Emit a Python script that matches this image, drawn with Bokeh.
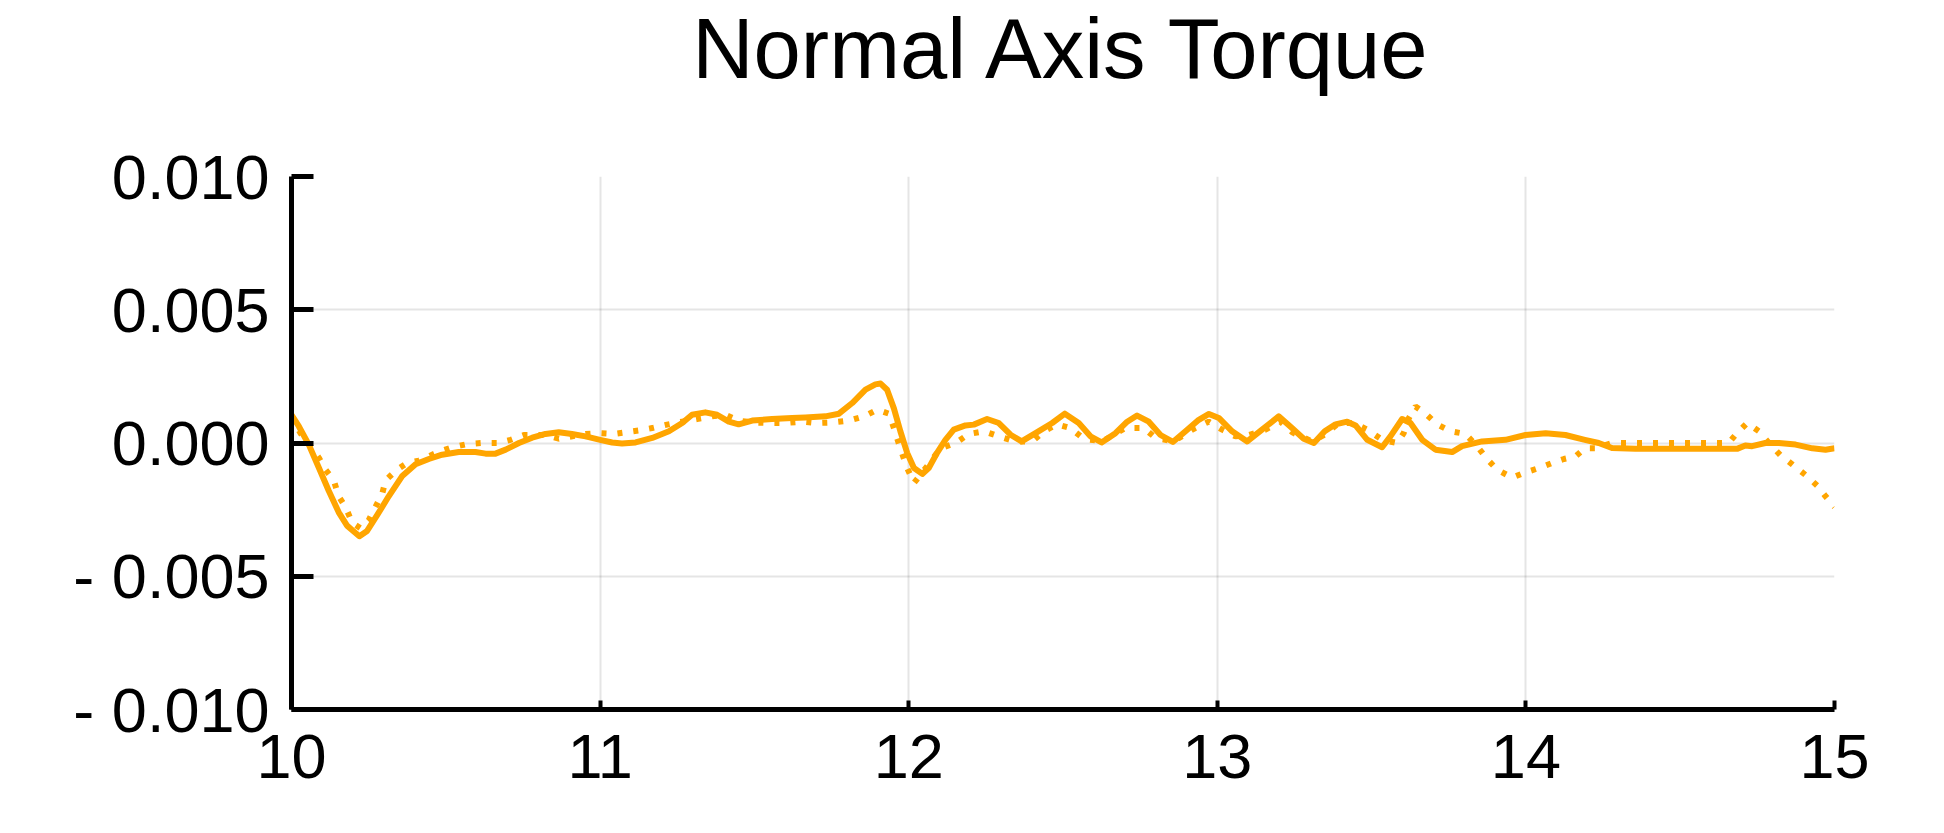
from bokeh.plotting import figure
from bokeh.models import Range1d, FixedTicker, CustomJSTickFormatter, Title
from bokeh.embed import file_html
from bokeh.resources import INLINE

# ---- data ----
t_solid = [10.000, 10.024, 10.056, 10.089, 10.121, 10.153, 10.180, 10.200, 10.220, 10.245,
           10.278, 10.315, 10.358, 10.402, 10.445, 10.488, 10.542, 10.596, 10.629, 10.661,
           10.694, 10.737, 10.780, 10.823, 10.866, 10.909, 10.953, 11.000, 11.039, 11.071,
           11.115, 11.169, 11.223, 11.266, 11.298, 11.341, 11.379, 11.417, 11.449, 11.493,
           11.557, 11.622, 11.665, 11.730, 11.774, 11.817, 11.860, 11.892, 11.909, 11.930,
           11.952, 11.973, 11.995, 12.017, 12.044, 12.065, 12.092, 12.119, 12.146, 12.184,
           12.211, 12.254, 12.292, 12.330, 12.366, 12.411, 12.465, 12.506, 12.551, 12.589,
           12.625, 12.670, 12.708, 12.740, 12.778, 12.816, 12.856, 12.897, 12.940, 12.973,
           13.005, 13.048, 13.097, 13.145, 13.199, 13.242, 13.280, 13.313, 13.348, 13.383,
           13.421, 13.448, 13.486, 13.534, 13.561, 13.599, 13.626, 13.664, 13.707, 13.761,
           13.793, 13.858, 13.934, 13.999, 14.064, 14.128, 14.191, 14.236, 14.279, 14.355,
           14.463, 14.571, 14.684, 14.711, 14.733, 14.776, 14.820, 14.874, 14.928, 14.971,
           15.000]
v_solid = [0.00106, 0.00062, -0.00006, -0.00094, -0.0018, -0.0026, -0.0031, -0.0033, -0.0035, -0.0033,
           -0.0027, -0.0020, -0.00125, -0.0008, -0.0006, -0.00044, -0.00034, -0.00034, -0.0004, -0.0004,
           -0.00025, 0.0, 0.0002, 0.00034, 0.0004, 0.00034, 0.00025, 0.00012, 0.00002, -0.00002,
           0.00002, 0.00019, 0.00044, 0.00075, 0.00106, 0.00115, 0.00106, 0.0008, 0.0007, 0.00084,
           0.0009, 0.00094, 0.00096, 0.001, 0.0011, 0.0015, 0.002, 0.0022, 0.00223, 0.002,
           0.0013, 0.00044, -0.00037, -0.00094, -0.00116, -0.00094, -0.00037, 0.00012, 0.0005, 0.00066,
           0.00069, 0.0009, 0.00075, 0.00031, 0.00006, 0.00037, 0.00075, 0.0011, 0.00075, 0.00025,
           0.00002, 0.00037, 0.0008, 0.00103, 0.0008, 0.0003, 0.00004, 0.00044, 0.00087, 0.00109,
           0.00094, 0.00044, 0.00006, 0.0005, 0.001, 0.00056, 0.00016, 0.0, 0.00044, 0.0007,
           0.0008, 0.00066, 0.00012, -0.00016, 0.00025, 0.0009, 0.00075, 0.00012, -0.00025, -0.00034,
           -0.00012, 0.00006, 0.00012, 0.0003, 0.00037, 0.0003, 0.00012, 0.0, -0.00019, -0.00022,
           -0.00022, -0.00022, -0.00022, -0.00009, -0.00012, 0.0, 0.0, -0.00006, -0.0002, -0.00025,
           -0.0002]

t_dotted = [10.000, 10.029, 10.061, 10.089, 10.110, 10.137, 10.153, 10.175, 10.197, 10.224,
            10.250, 10.272, 10.294, 10.305, 10.342, 10.375, 10.413, 10.445, 10.483, 10.521,
            10.569, 10.618, 10.667, 10.710, 10.753, 10.823, 10.866, 10.953, 10.996, 11.044,
            11.082, 11.125, 11.169, 11.217, 11.266, 11.314, 11.363, 11.406, 11.449, 11.493,
            11.547, 11.601, 11.655, 11.698, 11.752, 11.806, 11.855, 11.898, 11.936, 11.952,
            11.973, 11.995, 12.017, 12.038, 12.071, 12.103, 12.152, 12.195, 12.244, 12.292,
            12.346, 12.400, 12.438, 12.481, 12.524, 12.567, 12.627, 12.702, 12.762, 12.800,
            12.859, 12.918, 12.972, 13.016, 13.059, 13.102, 13.156, 13.205, 13.243, 13.307,
            13.345, 13.394, 13.442, 13.486, 13.534, 13.583, 13.604, 13.621, 13.642, 13.675,
            13.712, 13.756, 13.804, 13.842, 13.874, 13.907, 13.955, 13.999, 14.042, 14.085,
            14.123, 14.161, 14.191, 14.225, 14.279, 14.333, 14.657, 14.684, 14.717, 14.755,
            14.787, 14.825, 14.863, 14.906, 14.944, 14.971, 15.000]
v_dotted = [0.001, 0.00037, -0.00012, -0.00056, -0.001, -0.0014, -0.002, -0.0024, -0.003, -0.0032,
            -0.0029, -0.0024, -0.0019, -0.0014, -0.001, -0.00075, -0.00066, -0.0005, -0.0003, -0.00016,
            -0.00004, 0.0, 0.0, 0.00012, 0.0003, 0.0003, 0.00016, 0.00034, 0.00037, 0.00034,
            0.0004, 0.00047, 0.00056, 0.00069, 0.0008, 0.0009, 0.001, 0.00106, 0.00084, 0.00077,
            0.00075, 0.00075, 0.0008, 0.00075, 0.00077, 0.00084, 0.001, 0.00125, 0.0011, 0.00056,
            -0.0002, -0.00094, -0.0015, -0.0012, -0.0007, -0.0002, 0.0, 0.00034, 0.00044, 0.00025,
            0.00006, 0.00006, 0.00044, 0.0007, 0.00056, 0.00016, 0.00006, 0.00056, 0.00056, 0.00019,
            0.00006, 0.0005, 0.0008, 0.0005, 0.00025, 0.0003, 0.0005, 0.0008, 0.0004, 0.00006,
            0.0003, 0.00075, 0.00075, 0.0005, 0.00012, 0.0, 0.00037, 0.00094, 0.00137, 0.0011,
            0.0007, 0.00044, 0.00034, -0.00012, -0.0006, -0.001, -0.0013, -0.0011, -0.00094, -0.00075,
            -0.0006, -0.0005, -0.0002, -0.0002, 0.0, 0.0, 0.0, 0.00037, 0.00075, 0.00044,
            0.0, -0.00046, -0.0008, -0.0012, -0.0016, -0.002, -0.0024]

x_ticks = [10, 11, 12, 13, 14, 15]
y_ticks = [-0.010, -0.005, 0.0, 0.005, 0.010]
title_text = "Normal Axis Torque"

FONT = "Liberation Sans"
ORANGE = "#FFA500"

p = figure(width=1928, height=817, output_backend="svg", toolbar_location=None,
           x_range=Range1d(10, 15), y_range=Range1d(-0.010, 0.010),
           min_border_left=291, min_border_right=94, min_border_top=175,
           min_border_bottom=108, title=title_text)

p.title.text_font = FONT
p.title.text_font_size = "85px"
p.title.text_font_style = "normal"
p.title.text_color = "black"
p.title.align = "center"
p.title.vertical_align = "top"
p.title.standoff = 0

# empty spacer panel between the title and the plot frame
spacer = Title(text=" ", text_font=FONT, text_font_size="10px", standoff=66)
p.add_layout(spacer, "above")

p.outline_line_color = None
p.background_fill_color = "white"
p.border_fill_color = "white"

p.line(t_solid, v_solid, line_color=ORANGE, line_width=6, line_join="round")
p.line(t_dotted, v_dotted, line_color=ORANGE, line_width=6, line_dash="5 11")

for ax in (p.xaxis[0], p.yaxis[0]):
    ax.axis_line_color = "black"
    ax.axis_line_width = 5
    ax.major_tick_line_color = "black"
    ax.major_tick_out = 0
    ax.minor_tick_line_color = None
    ax.major_label_text_font = FONT
    ax.major_label_text_font_size = "63px"
    ax.major_label_text_color = "black"

p.xaxis[0].ticker = FixedTicker(ticks=x_ticks)
p.xaxis[0].major_tick_in = 9
p.xaxis[0].major_tick_line_width = 4
p.xaxis[0].major_label_standoff = 25

p.yaxis[0].ticker = FixedTicker(ticks=y_ticks)
p.yaxis[0].major_tick_in = 22
p.yaxis[0].major_tick_line_width = 5
p.yaxis[0].major_label_standoff = 22
p.yaxis[0].formatter = CustomJSTickFormatter(
    code="var s = Math.abs(tick).toFixed(3); return (tick < -1e-12 ? '- ' : '') + s;")

p.xgrid.ticker = FixedTicker(ticks=x_ticks)
p.ygrid.ticker = FixedTicker(ticks=y_ticks)
for g in (p.xgrid[0], p.ygrid[0]):
    g.grid_line_color = "black"
    g.grid_line_alpha = 0.1
    g.grid_line_width = 2

open("out.html", "w").write(file_html(p, INLINE))
